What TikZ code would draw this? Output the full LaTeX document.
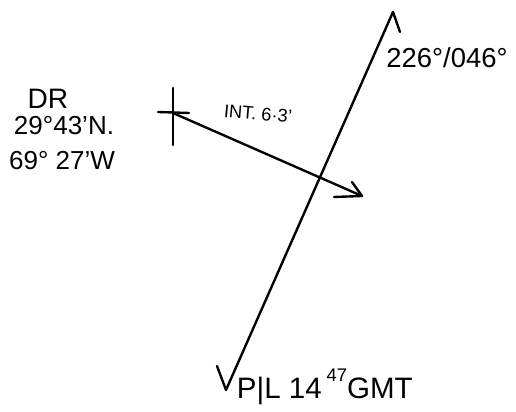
\documentclass[tikz,border=0pt]{standalone}
\usepackage{fontspec}
\setmainfont{Liberation Sans}
\usetikzlibrary{arrows.meta, positioning, calc}

\begin{document}
\begin{tikzpicture}[x=0.025cm, y=-0.025cm, line cap=round, line join=round]
    \useasboundingbox (0,0) rectangle (516,412);
    \tikzset{pen/.style={line width=1.7pt, black}}

    % position line
    \coordinate (top) at (393,12);
    \coordinate (bot) at (226,390);
    \draw[pen] (bot) -- (top);
    \draw[pen] (top) -- (400,32);
    \draw[pen] (bot) -- (217,366);

    % DR and intercept
    \coordinate (dr) at (173,113);
    \coordinate (tip) at (362,196);
    \draw[pen] (173,88) -- (173,145);
    \draw[pen] (158,112) -- (189,113);
    \draw[pen] (dr) -- (tip);
    \draw[pen] (352,182) -- (tip) -- (334,197);

    \node (drlab) at (48,99) {\fontsize{20}{22}\selectfont DR};
    \node (lat) at (64,126) {\fontsize{18.5}{20}\selectfont 29°43'N.};
    \node (lon) at (62,161) {\fontsize{18.5}{20}\selectfont 69° 27'W};
    \node[rotate=-5] (int) at (258,114) {\fontsize{13}{15}\selectfont INT. 6·3'};
    \node (brg) at (447,58) {\fontsize{19.5}{21}\selectfont 226°/046°};
    \node[anchor=base west] (pl) at (232,399) {\fontsize{21}{23}\selectfont P|L 14\,\raisebox{1.1ex}{\fontsize{13}{15}\selectfont 47}GMT};
\end{tikzpicture}
\end{document}
